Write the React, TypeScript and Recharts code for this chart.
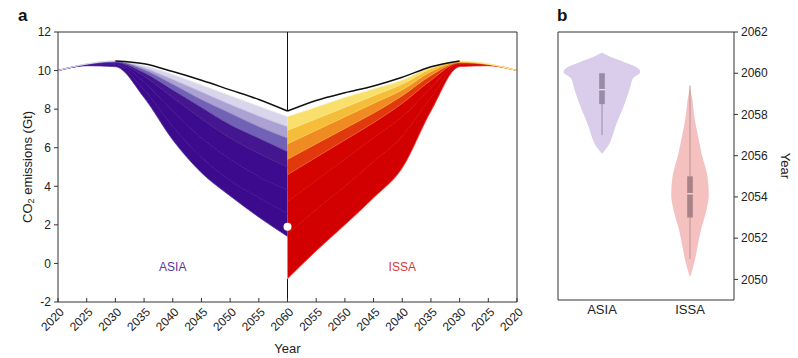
import React from "react";
import { ComposedChart, Area, Line, Scatter, XAxis, YAxis, ReferenceLine } from "recharts";

const FONT = "'Liberation Sans', Arial, sans-serif";
const INK = "#222";

// panel a, left half: ASIA scenario envelope lines (bottom -> top), 5-year steps
const ASIA_YEARS = [2020, 2025, 2030, 2035, 2040, 2045, 2050, 2055, 2060];
const ASIA_PATHS = [
  [10.0, 10.25, 10.2, 8.6, 6.4, 4.7, 3.5, 2.4, 1.4],
  [10.0, 10.28, 10.3, 9.0, 7.1, 5.5, 4.3, 3.4, 2.6],
  [10.0, 10.3, 10.35, 9.4, 7.9, 6.5, 5.4, 4.5, 3.8],
  [10.0, 10.3, 10.4, 9.7, 8.6, 7.5, 6.5, 5.7, 5.0],
  [10.0, 10.32, 10.45, 9.9, 9.0, 8.1, 7.2, 6.5, 5.8],
  [10.0, 10.33, 10.48, 10.05, 9.3, 8.5, 7.8, 7.1, 6.5],
  [10.0, 10.34, 10.5, 10.15, 9.55, 8.9, 8.25, 7.65, 7.1],
  [10.0, 10.35, 10.5, 10.25, 9.8, 9.25, 8.7, 8.15, 7.6],
];
const ASIA_BLACK = [null, null, 10.5, 10.35, 9.95, 9.5, 9.0, 8.5, 7.9];
const ASIA_FILLS = ["#3c0a8d", "#3c0a8d", "#3d0b8e", "#44168f", "#7262b6", "#aba2d3", "#d9d6ec"];
const ASIA_STROKES = ["#5a3aa4", "#3c0a8d", "#3d0b8e", "#44168f", "#5e48aa", "#9587c6", "#c7c1e2", "#e8e6f3"];

// panel a, right half: ISSA (x axis runs 2060 -> 2020)
const ISSA_YEARS = [2060, 2055, 2050, 2045, 2040, 2035, 2030, 2025, 2020];
const ISSA_PATHS = [
  [-0.8, 0.65, 2.0, 3.4, 4.95, 7.9, 10.2, 10.25, 10.0],
  [1.5, 2.8, 4.0, 5.3, 6.6, 8.6, 10.3, 10.28, 10.0],
  [3.2, 4.3, 5.4, 6.5, 7.6, 9.1, 10.35, 10.3, 10.0],
  [4.6, 5.5, 6.4, 7.3, 8.3, 9.5, 10.4, 10.3, 10.0],
  [5.4, 6.2, 7.0, 7.8, 8.7, 9.75, 10.42, 10.32, 10.0],
  [6.2, 6.9, 7.6, 8.3, 9.0, 9.95, 10.45, 10.33, 10.0],
  [6.9, 7.5, 8.1, 8.7, 9.3, 10.1, 10.47, 10.34, 10.0],
  [7.6, 8.1, 8.6, 9.05, 9.5, 10.2, 10.5, 10.35, 10.0],
];
const ISSA_BLACK = [7.9, 8.45, 8.85, 9.2, 9.65, 10.2, 10.5, null, null];
const ISSA_FILLS = ["#d20000", "#d20000", "#d40300", "#e2380e", "#f08a22", "#f6bd3a", "#f9df6c"];
const ISSA_STROKES = ["#e8453a", "#d20000", "#d40300", "#ea5a14", "#f29a28", "#f7cc44", "#fae67e", "#fcf0aa"];

const X_TICKS = [0, 5, 10, 15, 20, 25, 30, 35, 40, 45, 50, 55, 60, 65, 70, 75, 80];
const X_TICK_LABELS = ["2020", "2025", "2030", "2035", "2040", "2045", "2050", "2055", "2060",
  "2055", "2050", "2045", "2040", "2035", "2030", "2025", "2020"];
const Y_TICKS = [-2, 0, 2, 4, 6, 8, 10, 12];

const REGIONS = ["ASIA", "ISSA"];
const REGION_COLORS = ["#5a3598", "#d23a3a"];
const REGION_LABEL_YEAR = 2040;
const REGION_LABEL_VALUE = -0.2;
const MARKER = { year: 2060, value: 1.9 };

// panel b: violin outlines (year, half width in category units)
const ASIA_V_YEARS = [2056.1, 2056.45, 2056.9, 2057.4, 2057.9, 2058.4, 2058.85, 2059.35, 2059.75, 2060.05, 2060.3, 2060.55, 2060.8, 2061.0];
const ASIA_V_HALF = [0, 0.033, 0.057, 0.076, 0.099, 0.123, 0.142, 0.161, 0.175, 0.218, 0.194, 0.123, 0.047, 0];
const ISSA_V_YEARS = [2050.1, 2050.8, 2051.6, 2052.4, 2053.25, 2054.1, 2055.0, 2056.1, 2057.1, 2058.05, 2058.7, 2059.3];
const ISSA_V_HALF = [0, 0.024, 0.043, 0.062, 0.09, 0.107, 0.099, 0.066, 0.042, 0.022, 0.014, 0];
// box stats: whisker low, q1, median, q3, whisker high
const ASIA_BOX = [2057.0, 2058.5, 2059.2, 2060.0, 2060.0];
const ISSA_BOX = [2051.0, 2053.0, 2054.15, 2055.0, 2059.4];
const VIOLIN_CENTERS = [0.25, 0.75];
const BOX_HALF = 0.016;
const B_TICKS = [2050, 2052, 2054, 2056, 2058, 2060, 2062];

const leftRows = ASIA_YEARS.map((yr, j) => {
  const row: any = { t: yr - 2020, black: ASIA_BLACK[j] };
  ASIA_PATHS.forEach((p, i) => (row["p" + i] = p[j]));
  return row;
});
const rightRows = ISSA_YEARS.map((yr, j) => {
  const row: any = { t: 2100 - yr, black: ISSA_BLACK[j] };
  ISSA_PATHS.forEach((p, i) => (row["p" + i] = p[j]));
  return row;
});
const labelRows = REGIONS.map((name, i) => ({
  t: i === 0 ? REGION_LABEL_YEAR - 2020 : 2100 - REGION_LABEL_YEAR,
  v: REGION_LABEL_VALUE,
  name,
  color: REGION_COLORS[i],
}));

const violinRows = (years: number[], half: number[], c: number) =>
  years.map((y, i) => ({ year: y, v: [c - half[i], c + half[i]] }));
const boxRows = (b: number[], c: number) => [
  { year: b[1], v: [c - BOX_HALF, c + BOX_HALF] },
  { year: b[3], v: [c - BOX_HALF, c + BOX_HALF] },
];

const YearTick = (props: any) => {
  const { x, y, payload } = props;
  const idx = X_TICKS.indexOf(payload.value);
  const px = x + 4;
  const py = y + 6;
  return (
    <text x={px} y={py} transform={`rotate(-45 ${px} ${py})`} textAnchor="end" dominantBaseline="central"
      fontSize={12} fill={INK} fontFamily={FONT}>
      {X_TICK_LABELS[idx]}
    </text>
  );
};

const Co2Title = (props: any) => {
  const vb = props.viewBox;
  const cx = vb.x + 19;
  const cy = vb.y + vb.height / 2;
  return (
    <text x={cx} y={cy} transform={`rotate(-90 ${cx} ${cy})`} textAnchor="middle" dominantBaseline="central"
      fontSize={13} fill={INK} fontFamily={FONT}>
      CO<tspan fontSize={9} dy={4}>2</tspan><tspan dy={-4}> emissions (Gt)</tspan>
    </text>
  );
};

const YearTitleB = (props: any) => {
  const vb = props.viewBox;
  const cx = vb.x + 51;
  const cy = vb.y + vb.height / 2;
  return (
    <text x={cx} y={cy} transform={`rotate(90 ${cx} ${cy})`} textAnchor="middle" dominantBaseline="central"
      fontSize={13} fill={INK} fontFamily={FONT}>
      Year
    </text>
  );
};

const tickStyle = { fontSize: 12, fill: INK, fontFamily: FONT };

function PanelA() {
  return (
    <ComposedChart width={560} height={358} margin={{ top: 32, right: 8, left: 8, bottom: 0 }}>
      <XAxis type="number" dataKey="t" domain={[0, 80]} ticks={X_TICKS} interval={0} height={56}
        tick={<YearTick />} tickSize={-4} tickMargin={6} stroke="#333"
        label={{ value: "Year", position: "insideBottom", offset: 5, fontSize: 13, fill: INK, fontFamily: FONT }} />
      <YAxis type="number" domain={[-2, 12]} ticks={Y_TICKS} interval={0} width={50} tick={tickStyle}
        tickSize={4} tickMargin={3} stroke="#333" label={Co2Title} />
      <YAxis yAxisId="r" orientation="right" type="number" domain={[-2, 12]} ticks={Y_TICKS} interval={0}
        width={35} tick={tickStyle} tickSize={4} tickMargin={3} stroke="#333" />
      <ReferenceLine y={12} stroke="#333" />
      <ReferenceLine segment={[{ x: 40, y: 12 }, { x: 40, y: ASIA_BLACK[8] as number }]} stroke="#111" />
      <ReferenceLine segment={[{ x: 40, y: ISSA_PATHS[0][0] }, { x: 40, y: -2 }]} stroke="#111" />
      {ASIA_FILLS.map((c, i) => (
        <Area key={"af" + i} data={leftRows} dataKey={(d: any) => [d["p" + i], d["p" + (i + 1)]]}
          type="monotone" stroke="none" fill={c} fillOpacity={1} isAnimationActive={false} />
      ))}
      {ISSA_FILLS.map((c, i) => (
        <Area key={"rf" + i} data={rightRows} dataKey={(d: any) => [d["p" + i], d["p" + (i + 1)]]}
          type="monotone" stroke="none" fill={c} fillOpacity={1} isAnimationActive={false} />
      ))}
      {ASIA_STROKES.map((c, i) => (
        <Line key={"al" + i} data={leftRows} dataKey={"p" + i} type="monotone" stroke={c} strokeWidth={0.8}
          dot={false} activeDot={false} isAnimationActive={false} />
      ))}
      {ISSA_STROKES.map((c, i) => (
        <Line key={"rl" + i} data={rightRows} dataKey={"p" + i} type="monotone" stroke={c} strokeWidth={0.8}
          dot={false} activeDot={false} isAnimationActive={false} />
      ))}
      <Line data={leftRows} dataKey="black" type="monotone" stroke="#111" strokeWidth={1.5}
        dot={false} activeDot={false} isAnimationActive={false} />
      <Line data={rightRows} dataKey="black" type="monotone" stroke="#111" strokeWidth={1.5}
        dot={false} activeDot={false} isAnimationActive={false} />
      <Scatter data={[{ t: MARKER.year - 2020, v: MARKER.value }]} dataKey="v" isAnimationActive={false}
        shape={(p: any) => <circle cx={p.cx} cy={p.cy} r={4} fill="#fff" />} />
      <Scatter data={labelRows} dataKey="v" isAnimationActive={false}
        shape={(p: any) => (
          <text x={p.cx} y={p.cy} textAnchor="middle" dominantBaseline="central" fontSize={12}
            fill={p.payload.color} fontFamily={FONT}>
            {p.payload.name}
          </text>
        )} />
    </ComposedChart>
  );
}

function PanelB() {
  const fills = ["#d9cdeb", "#f5c0c0"];
  const boxes = ["#9a8aa8", "#a88284"];
  const whisk = ["#9a8aa8", "#b89294"];
  const stats = [ASIA_BOX, ISSA_BOX];
  const outlines = [
    violinRows(ASIA_V_YEARS, ASIA_V_HALF, VIOLIN_CENTERS[0]),
    violinRows(ISSA_V_YEARS, ISSA_V_HALF, VIOLIN_CENTERS[1]),
  ];
  return (
    <ComposedChart layout="vertical" width={258} height={358} margin={{ top: 32, right: 6, left: 18, bottom: 28 }}>
      <XAxis type="number" domain={[0, 1]} ticks={VIOLIN_CENTERS} interval={0} height={30}
        tickFormatter={(v: number) => REGIONS[VIOLIN_CENTERS.indexOf(v)]} tickLine={false} tickSize={3} tickMargin={2}
        tick={{ fontSize: 13, fill: INK, fontFamily: FONT }} stroke="#333" />
      <YAxis type="number" dataKey="year" orientation="right" reversed domain={[2049, 2062]} ticks={B_TICKS}
        interval={0} width={58} tick={tickStyle} tickSize={4} tickMargin={3} stroke="#333" label={YearTitleB} />
      <ReferenceLine x={0} stroke="#333" />
      <ReferenceLine y={2062} stroke="#333" />
      {outlines.map((rows, i) => (
        <Area key={"v" + i} data={rows} dataKey="v" type="monotone" stroke="none" fill={fills[i]}
          fillOpacity={1} isAnimationActive={false} />
      ))}
      {stats.map((b, i) => (
        <Area key={"b" + i} data={boxRows(b, VIOLIN_CENTERS[i])} dataKey="v" type="linear" stroke="none"
          fill={boxes[i]} fillOpacity={1} isAnimationActive={false} />
      ))}
      {stats.map((b, i) => (
        <Line key={"wl" + i} data={[{ year: b[0], x: VIOLIN_CENTERS[i] }, { year: b[1], x: VIOLIN_CENTERS[i] }]}
          dataKey="x" type="linear" stroke={whisk[i]} strokeWidth={1} dot={false} activeDot={false}
          isAnimationActive={false} />
      ))}
      {stats.map((b, i) => (
        <Line key={"wh" + i} data={[{ year: b[3], x: VIOLIN_CENTERS[i] }, { year: b[4], x: VIOLIN_CENTERS[i] }]}
          dataKey="x" type="linear" stroke={whisk[i]} strokeWidth={1} dot={false} activeDot={false}
          isAnimationActive={false} />
      ))}
      {stats.map((b, i) => (
        <Line key={"m" + i}
          data={[{ year: b[2], x: VIOLIN_CENTERS[i] - BOX_HALF }, { year: b[2], x: VIOLIN_CENTERS[i] + BOX_HALF }]}
          dataKey="x" type="linear" stroke="#fff" strokeWidth={1} dot={false} activeDot={false}
          isAnimationActive={false} />
      ))}
    </ComposedChart>
  );
}

export default function App() {
  return (
    <div style={{ position: "relative", width: 798, height: 358, background: "#fff", fontFamily: FONT }}>
      <style>{"body{margin:0}"}</style>
      <div style={{ position: "absolute", left: 0, top: 0 }}>
        <PanelA />
      </div>
      <div style={{ position: "absolute", left: 540, top: 0 }}>
        <PanelB />
      </div>
      <div style={{ position: "absolute", left: 18, top: 6, fontSize: 17, fontWeight: 700, color: "#111" }}>a</div>
      <div style={{ position: "absolute", left: 557, top: 6, fontSize: 17, fontWeight: 700, color: "#111" }}>b</div>
    </div>
  );
}
